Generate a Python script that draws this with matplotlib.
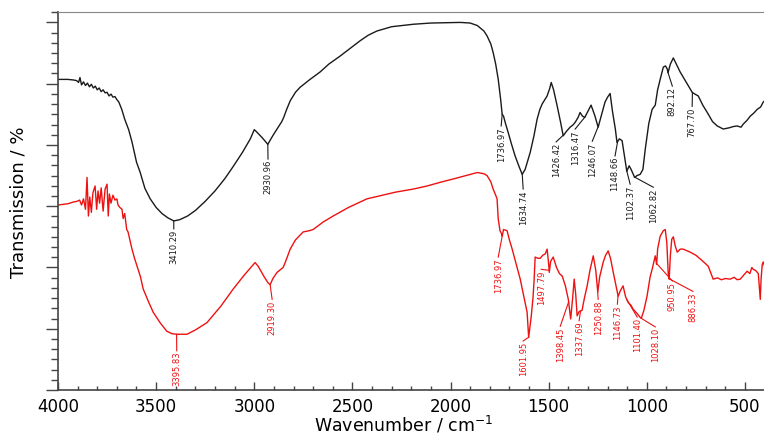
import numpy as np
import matplotlib
matplotlib.use('Agg')
import matplotlib.pyplot as plt
from matplotlib.ticker import MultipleLocator

# top spectrum (black), transmission in arbitrary units
black_wn = [4000, 3950, 3920, 3905, 3895, 3888, 3880, 3870, 3860, 3850, 3840, 3830, 3820, 3810,
            3800, 3790, 3780, 3770, 3760, 3750, 3740, 3730, 3720, 3710, 3700, 3690, 3675, 3660,
            3640, 3623, 3600, 3582, 3557, 3530, 3500, 3470, 3440, 3410, 3380, 3340, 3300, 3250,
            3200, 3150, 3107, 3060, 3020, 3000, 2990, 2960, 2931, 2915, 2900, 2884, 2860, 2850,
            2835, 2817, 2790, 2767, 2720, 2665, 2620, 2563, 2510, 2461, 2420, 2375, 2300, 2190,
            2100, 1951, 1900, 1864, 1830, 1814, 1795, 1783, 1770, 1757, 1745, 1737, 1730, 1720,
            1706, 1690, 1671, 1650, 1635, 1620, 1605, 1594, 1575, 1559, 1545, 1533, 1508, 1495,
            1487, 1475, 1457, 1440, 1426, 1410, 1391, 1375, 1365, 1350, 1340, 1328, 1316, 1300,
            1284, 1265, 1248, 1230, 1213, 1200, 1187, 1175, 1160, 1152, 1140, 1126, 1113, 1102,
            1090, 1080, 1062, 1050, 1034, 1020, 1008, 990, 973, 957, 945, 932, 916, 905, 896,
            892, 880, 865, 850, 830, 800, 780, 769, 755, 738, 715, 692, 665, 641, 611, 580, 560,
            540, 520, 509, 490, 473, 455, 438, 420, 407, 400]
black_t = [5.07, 5.07, 5.06, 5.05, 5.02, 5.10, 4.98, 5.03, 4.97, 5.01, 4.95, 4.99, 4.93, 4.96,
           4.90, 4.93, 4.87, 4.90, 4.85, 4.86, 4.80, 4.83, 4.78, 4.79, 4.74, 4.70, 4.58, 4.42,
           4.25, 4.05, 3.72, 3.56, 3.29, 3.12, 2.98, 2.88, 2.81, 2.76, 2.78, 2.84, 2.93, 3.08,
           3.25, 3.45, 3.65, 3.88, 4.10, 4.25, 4.22, 4.12, 4.01, 4.10, 4.18, 4.26, 4.38, 4.45,
           4.58, 4.72, 4.86, 4.94, 5.06, 5.19, 5.32, 5.45, 5.58, 5.70, 5.79, 5.86, 5.93, 5.97,
           5.99, 6.00, 5.99, 5.95, 5.86, 5.78, 5.65, 5.51, 5.32, 5.07, 4.75, 4.50, 4.47, 4.35,
           4.20, 4.02, 3.82, 3.64, 3.52, 3.60, 3.76, 3.88, 4.15, 4.42, 4.58, 4.67, 4.80, 4.92,
           5.02, 4.90, 4.64, 4.38, 4.15, 4.22, 4.29, 4.33, 4.37, 4.45, 4.53, 4.47, 4.45, 4.55,
           4.65, 4.48, 4.29, 4.50, 4.70, 4.78, 4.84, 4.55, 4.25, 4.04, 4.10, 4.07, 3.80, 3.57,
           3.66, 3.60, 3.47, 3.50, 3.52, 3.60, 3.93, 4.35, 4.58, 4.65, 4.90, 5.07, 5.27, 5.29, 5.24,
           5.18, 5.32, 5.42, 5.32, 5.19, 5.03, 4.92, 4.86, 4.83, 4.80, 4.65, 4.53, 4.38, 4.31, 4.26,
           4.28, 4.30, 4.31, 4.29, 4.34, 4.40, 4.47, 4.52, 4.58, 4.62, 4.70, 4.72]

# bottom spectrum (red)
red_wn = [4000, 3950, 3920, 3903, 3890, 3880, 3870, 3860, 3852, 3845, 3838, 3830, 3822, 3811,
          3803, 3796, 3788, 3780, 3770, 3760, 3750, 3744, 3738, 3730, 3720, 3710, 3700, 3694,
          3685, 3674, 3668, 3660, 3650, 3643, 3630, 3623, 3610, 3597, 3580, 3566, 3540, 3515,
          3480, 3446, 3420, 3395, 3343, 3300, 3241, 3170, 3107, 3050, 3010, 2996, 2980, 2950,
          2930, 2919, 2905, 2884, 2853, 2840, 2817, 2790, 2751, 2720, 2700, 2650, 2598, 2520,
          2426, 2359, 2280, 2190, 2120, 2053, 1980, 1900, 1864, 1830, 1814, 1795, 1783, 1770,
          1763, 1757, 1748, 1740, 1737, 1730, 1712, 1700, 1686, 1665, 1645, 1625, 1610, 1602,
          1595, 1589, 1580, 1574, 1569, 1555, 1543, 1530, 1518, 1508, 1500, 1497, 1490, 1477,
          1460, 1445, 1431, 1415, 1400, 1388, 1378, 1370, 1362, 1355, 1345, 1330, 1318, 1304,
          1290, 1273, 1260, 1250, 1240, 1222, 1210, 1197, 1185, 1171, 1160, 1146, 1135, 1121,
          1108, 1095, 1080, 1070, 1050, 1035, 1028, 1015, 999, 983, 973, 957, 950, 945, 932,
          916, 906, 898, 891, 886, 880, 873, 865, 855, 845, 830, 815, 800, 779, 750, 728, 700,
          687, 675, 662, 640, 620, 600, 575, 555, 540, 524, 505, 489, 475, 465, 458, 445, 432,
          425, 422, 418, 412, 407, 400]
red_t = [3.02, 3.04, 3.07, 3.08, 3.10, 3.02, 3.12, 2.95, 3.47, 2.84, 3.15, 2.90, 3.22, 3.33,
         2.95, 3.25, 3.05, 3.30, 2.92, 3.28, 3.36, 2.84, 3.20, 3.05, 3.18, 3.10, 3.12, 3.02,
         2.98, 2.95, 2.80, 2.88, 2.62, 2.58, 2.40, 2.30, 2.15, 2.02, 1.85, 1.65, 1.45, 1.27,
         1.10, 0.96, 0.92, 0.91, 0.91, 0.98, 1.10, 1.37, 1.65, 1.88, 2.03, 2.08, 2.02, 1.85,
         1.75, 1.72, 1.82, 1.92, 2.00, 2.10, 2.30, 2.45, 2.58, 2.60, 2.62, 2.74, 2.84, 2.98,
         3.12, 3.17, 3.23, 3.28, 3.33, 3.39, 3.45, 3.52, 3.55, 3.53, 3.50, 3.40, 3.28, 3.18,
         3.12, 2.79, 2.60, 2.55, 2.51, 2.62, 2.60, 2.45, 2.30, 2.05, 1.81, 1.50, 1.27, 0.86,
         1.05, 1.20, 1.50, 1.81, 2.17, 2.15, 2.15, 2.20, 2.22, 2.30, 2.05, 1.92, 2.10, 2.17,
         2.00, 1.90, 1.86, 1.70, 1.48, 1.16, 1.50, 1.81, 1.55, 1.21, 1.28, 1.30, 1.50, 1.70,
         1.95, 2.19, 1.95, 1.60, 1.85, 2.09, 2.20, 2.27, 2.15, 1.92, 1.75, 1.53, 1.62, 1.70,
         1.52, 1.43, 1.38, 1.32, 1.25, 1.19, 1.17, 1.30, 1.53, 1.85, 1.97, 2.19, 2.05, 2.30, 2.51,
         2.60, 2.62, 2.40, 1.90, 1.81, 2.20, 2.46, 2.50, 2.35, 2.25, 2.30, 2.30, 2.28, 2.25, 2.20,
         2.14, 2.06, 2.02, 1.92, 1.81, 1.83, 1.80, 1.82, 1.81, 1.84, 1.80, 1.81, 1.88, 1.94, 1.90,
         2.00, 1.97, 1.95, 1.90, 1.60, 1.48, 1.80, 2.05, 2.09, 2.02]

# peak labels: text, label x (wavenumber), label top (y units)
black_labels = ['3410.29', '2930.96', '1736.97', '1634.74', '1426.42', '1316.47', '1246.07',
                '1148.66', '1102.37', '1062.82', '892.12', '767.70']
black_lab_x = [3410, 2930, 1742, 1630, 1462, 1365, 1278, 1162, 1085, 967, 870, 769]
black_lab_y = [2.63, 3.77, 4.31, 3.28, 4.05, 4.26, 4.06, 3.82, 3.36, 3.31, 4.96, 4.63]

red_labels = ['3395.83', '2919.30', '1736.97', '1601.95', '1497.79', '1398.45', '1337.69',
              '1250.88', '1146.73', '1101.40', '1028.10', '950.95', '886.33']
red_lab_x = [3395, 2909, 1757, 1630, 1538, 1441, 1345, 1248, 1150, 1049, 957, 870, 765]
red_lab_y = [0.64, 1.48, 2.17, 0.80, 1.97, 1.04, 1.13, 1.48, 1.40, 1.19, 1.03, 1.78, 1.61]

BLACK = '#1a1a1a'
RED = '#ee1111'

fig = plt.figure(figsize=(7.64, 4.35), dpi=100)
ax = fig.add_axes([0.0759, 0.1011, 0.9241, 0.869])

ax.plot(black_wn, black_t, color=BLACK, lw=1.0)
ax.plot(red_wn, red_t, color=RED, lw=1.0)


def add_labels(wn, t, labels, lab_x, lab_y, color):
    xs = np.array(wn[::-1], dtype=float)
    ys = np.array(t[::-1], dtype=float)
    for lab, lx, ly in zip(labels, lab_x, lab_y):
        peak = float(lab)
        py = np.interp(peak, xs, ys)
        ax.plot([peak, lx], [py, ly], color=color, lw=0.8)
        ax.text(lx, ly, lab, rotation=90, ha='center', va='top', fontsize=6,
                color=color, family=['Liberation Sans Narrow', 'DejaVu Sans'])


add_labels(black_wn, black_t, black_labels, black_lab_x, black_lab_y, BLACK)
add_labels(red_wn, red_t, red_labels, red_lab_x, red_lab_y, RED)

ax.set_xlim(4000, 403)
ax.set_ylim(0, 6.17)

ax.xaxis.set_major_locator(MultipleLocator(500))
ax.xaxis.set_minor_locator(MultipleLocator(100))
ax.yaxis.set_major_locator(MultipleLocator(1))
ax.yaxis.set_minor_locator(MultipleLocator(1 / 6))
ax.tick_params(axis='x', which='major', direction='in', length=6, width=1, color='#444',
               labelsize=12, pad=5)
ax.tick_params(axis='x', which='minor', direction='in', length=3, width=1, color='#444')
ax.tick_params(axis='y', which='major', direction='out', length=9, width=1, color='#444',
               labelleft=False)
ax.tick_params(axis='y', which='minor', direction='out', length=5, width=1, color='#444')

for side in ['left', 'bottom']:
    ax.spines[side].set_color('#444')
    ax.spines[side].set_linewidth(1.2)
ax.spines['top'].set_color('#888')
ax.spines['right'].set_visible(False)

ax.set_xlabel('Wavenumber / cm$^{-1}$', fontsize=12.5)
ax.xaxis.set_label_coords(0.49, -0.062)
ax.set_ylabel('Transmission / %', fontsize=13)
ax.yaxis.set_label_coords(-0.0425, 0.5)

fig.savefig('out.png', dpi=100)
